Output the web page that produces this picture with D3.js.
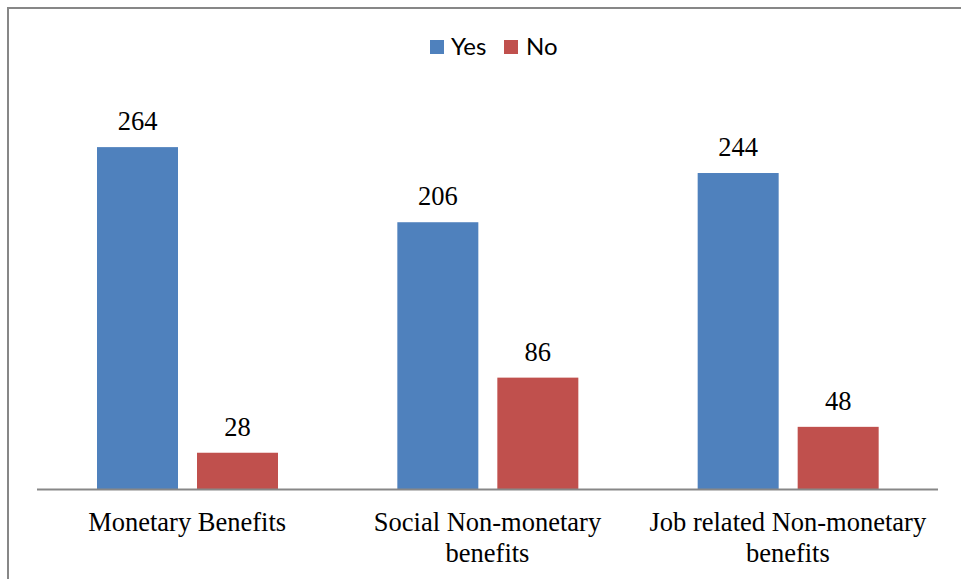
<!DOCTYPE html>
<html><head><meta charset="utf-8">
<script src="https://cdnjs.cloudflare.com/ajax/libs/d3/7.8.5/d3.min.js"></script>
<style>body{margin:0;background:#fff}svg{display:block}</style>
</head><body>
<script>
const categories = [["Monetary Benefits"], ["Social Non-monetary", "benefits"], ["Job related Non-monetary", "benefits"]];
const seriesNames = ["Yes", "No"];
const yesValues = [264, 206, 244];
const noValues = [28, 86, 48];
const colors = ["#4F81BD", "#C0504D"];

const W = 961, H = 579;
const serif = "Liberation Serif";
const svg = d3.select("body").append("svg").attr("width", W).attr("height", H);

// chart border
svg.append("path").attr("d", "M8,579 V8 H961").attr("fill", "none").attr("stroke", "#878787").attr("stroke-width", 2);

const x0 = d3.scaleBand().domain(d3.range(categories.length)).range([37, 938]);
const x1 = d3.scaleBand().domain(seriesNames).range([60, 241]).paddingInner(0.19);
const y = d3.scaleLinear().domain([0, 300]).range([489, 489 - 300 * 1.295]);

const data = categories.map((c, i) => ({i, vals: [yesValues[i], noValues[i]]}));

const g = svg.append("g");
data.forEach(d => {
  d.vals.forEach((v, k) => {
    const bx = x0(d.i) + x1(seriesNames[k]);
    g.append("rect").attr("x", bx).attr("y", y(v)).attr("width", x1.bandwidth()).attr("height", y(0) - y(v)).attr("fill", colors[k]);
    g.append("text").attr("x", bx + x1.bandwidth() / 2).attr("y", y(v) - 17)
      .attr("text-anchor", "middle").style("font-family", serif).style("font-size", "26.5px").attr("fill", "#000").text(v);
  });
});

// axis line
svg.append("line").attr("x1", 37).attr("x2", 938).attr("y1", 489.5).attr("y2", 489.5).attr("stroke", "#878787").attr("stroke-width", 2);

// category labels
categories.forEach((lines, i) => {
  const t = svg.append("text").attr("text-anchor", "middle").style("font-family", serif).style("font-size", "26.5px").attr("fill", "#000");
  lines.forEach((l, j) => {
    t.append("tspan").attr("x", x0(i) + x0.bandwidth() / 2).attr("y", 531 + j * 31).text(l);
  });
});

// legend
const leg = [{x: 430, tx: 451}, {x: 504, tx: 526}];
seriesNames.forEach((s, k) => {
  svg.append("rect").attr("x", leg[k].x).attr("y", 40).attr("width", 14).attr("height", 14).attr("fill", colors[k]);
  svg.append("text").attr("x", leg[k].tx).attr("y", 55).style("font-family", "Lato").style("font-size", "24px").attr("fill", "#000").text(s);
});
</script>
</body></html>
